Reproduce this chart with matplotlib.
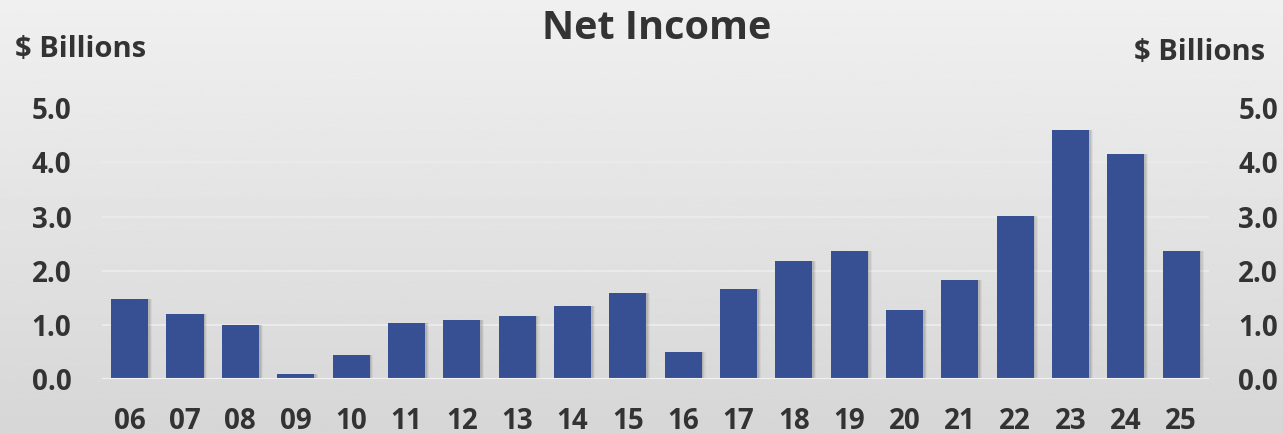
import numpy as np
import matplotlib.pyplot as plt

# ---------------------- Data ----------------------
years = ["06", "07", "08", "09", "10", "11", "12", "13", "14", "15",
         "16", "17", "18", "19", "20", "21", "22", "23", "24", "25"]
net_income = [1.48, 1.21, 1.00, 0.09, 0.44, 1.03, 1.09, 1.16, 1.35, 1.59,
              0.50, 1.66, 2.19, 2.37, 1.28, 1.84, 3.01, 4.60, 4.16, 2.36]
y_ticks = [0, 1, 2, 3, 4, 5]

bar_color = "#375093"
text_color = "#333333"
font = "Open Sans"

# ---------------------- Figure & gradient background ----------------------
fig = plt.figure(figsize=(12.83, 4.34), dpi=100)
bg = fig.add_axes([0, 0, 1, 1], zorder=-10)
grad = np.linspace(0.94, 0.84, 256).reshape(-1, 1)
bg.imshow(grad, aspect="auto", cmap="gray", vmin=0, vmax=1, extent=[0, 1, 0, 1])
bg.axis("off")

ax = fig.add_axes([0.0795, 0.126, 0.8628, 0.6245])
ax.patch.set_alpha(0)

x = np.arange(len(years))

# soft shadow to the right of each bar
for k, a in [(0.07, 0.07), (0.05, 0.10), (0.03, 0.14)]:
    ax.bar(x + k, net_income, width=0.67, color="#505050", alpha=a, zorder=2)
ax.bar(x, net_income, width=0.67, color=bar_color, zorder=3)

ax.set_xlim(-0.5, len(years) - 0.5)
ax.set_ylim(0, 5)
ax.set_yticks(y_ticks)
ax.set_yticklabels([f"{v:.1f}" for v in y_ticks])
ax.set_xticks(x)
ax.set_xticklabels(years)
ax.grid(axis="y", color="#eaeaea", linewidth=1.5, zorder=0)
ax.axhline(0, color="#f2f2f2", linewidth=1.5, zorder=4)
for s in ax.spines.values():
    s.set_visible(False)
ax.tick_params(length=0, labelsize=20, labelcolor=text_color)
ax.tick_params(axis="y", pad=22)
ax.tick_params(axis="x", pad=20)
for lab in ax.get_xticklabels() + ax.get_yticklabels():
    lab.set_fontfamily(font)
    lab.set_fontweight("bold")

# right-hand axis labels
ax2 = ax.twinx()
ax2.set_ylim(ax.get_ylim())
ax2.set_yticks(y_ticks)
ax2.set_yticklabels([f"{v:.1f}" for v in y_ticks])
for s in ax2.spines.values():
    s.set_visible(False)
ax2.tick_params(length=0, labelsize=20, labelcolor=text_color, pad=21)
for lab in ax2.get_yticklabels():
    lab.set_fontfamily(font)
    lab.set_fontweight("bold")

# ---------------------- Titles ----------------------
fig.text(0.5117, 0.935, "Net Income", ha="center", va="center", fontsize=28.5,
         fontweight="bold", color=text_color, family=font)
fig.text(0.012, 0.887, "$ Billions", ha="left", va="center", fontsize=21,
         fontweight="bold", color=text_color, family=font)
fig.text(0.986, 0.878, "$ Billions", ha="right", va="center", fontsize=21,
         fontweight="bold", color=text_color, family=font)

fig.savefig("out.png", dpi=100)
